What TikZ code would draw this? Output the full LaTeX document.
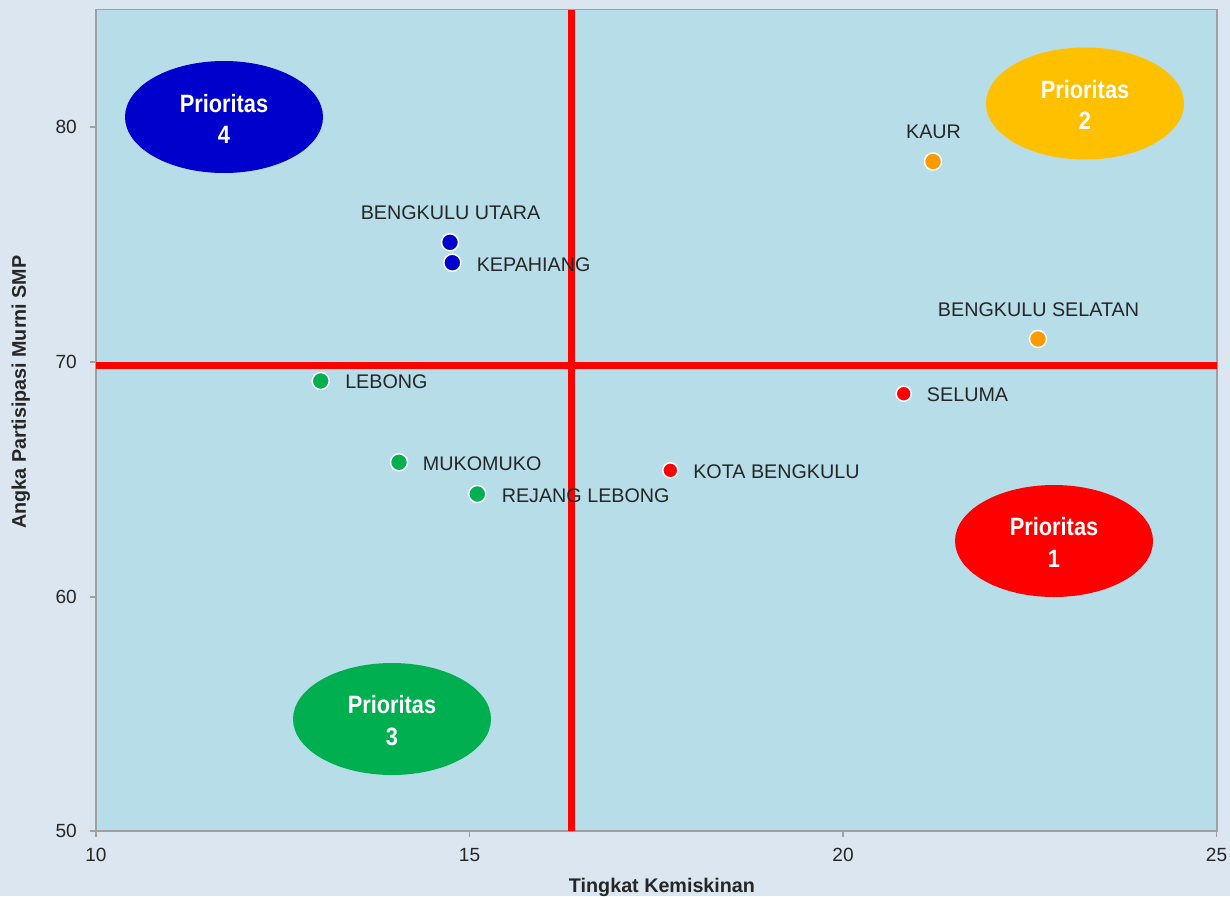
\documentclass[tikz,border=0pt]{standalone}
\usepackage{fontspec}
\setmainfont{Liberation Sans}
\newfontfamily\narrowfont{Liberation Sans}[FakeStretch=0.87]
\usetikzlibrary{shapes.geometric}
\definecolor{outerbg}{HTML}{DCE6F1}
\definecolor{plotbg}{HTML}{B7DDE8}
\definecolor{axisgray}{HTML}{A0A0A0}
\definecolor{txt}{HTML}{262626}
\definecolor{pblue}{HTML}{0000CC}
\definecolor{porange}{HTML}{FFC000}
\definecolor{dorange}{HTML}{FF9900}
\definecolor{pred}{HTML}{FF0000}
\definecolor{pgreen}{HTML}{00B050}
\begin{document}
\begin{tikzpicture}[x=0.75pt,y=-0.75pt,
  lbl/.style={inner sep=0pt,text=txt,font=\fontsize{14.8pt}{17pt}\selectfont},
  ticklbl/.style={inner sep=0pt,text=txt,font=\fontsize{14.3pt}{17pt}\selectfont},
  axtitle/.style={inner sep=0pt,text=txt,font=\bfseries\fontsize{14.8pt}{17pt}\selectfont},
  dot/.style={circle,draw=white,line width=1.1pt,minimum size=12.8pt,inner sep=0pt},
  smalldot/.style={dot,minimum size=11.3pt},
  prio/.style={ellipse,minimum width=148.5pt,minimum height=84pt,inner sep=0pt},
  priotxt/.style={inner sep=0pt,text=white,font=\narrowfont\bfseries\fontsize{18.8pt}{22pt}\selectfont},
  quad/.style={draw=pred,line width=5.2pt},
  tick/.style={draw=axisgray,line width=1.2pt}
]
\fill[outerbg] (0,0) rectangle (1230,896);
\useasboundingbox (0,0) rectangle (1230,896);
% plot area
\fill[plotbg] (96,9.5) rectangle (1217,831);
\draw[axisgray,line width=1.3pt] (96,9.5) rectangle (1217,831);
% ticks
\foreach \yy in {127,362,597,831} \draw[tick] (89.5,\yy) -- (96,\yy);
\foreach \xx in {96,469.5,843,1216.5} \draw[tick] (\xx,831) -- (\xx,837);
% tick labels
\node[ticklbl,anchor=east] (y80) at (77,127) {80};
\node[ticklbl,anchor=east] (y70) at (77,362) {70};
\node[ticklbl,anchor=east] (y60) at (77,597) {60};
\node[ticklbl,anchor=east] (y50) at (77,831) {50};
\node[ticklbl,anchor=base] (x10) at (96,861) {10};
\node[ticklbl,anchor=base] (x15) at (469.5,861) {15};
\node[ticklbl,anchor=base] (x20) at (843,861) {20};
\node[ticklbl,anchor=base] (x25) at (1216.5,861) {25};
% axis titles
\node[axtitle,anchor=base] (xtitle) at (662,892) {Tingkat Kemiskinan};
\node[axtitle,rotate=90,anchor=base] (ytitle) at (26,392) {Angka Partisipasi Murni SMP};
% quadrant lines
\draw[quad] (571.5,9.5) coordinate (vtop) -- (571.5,831) coordinate (vbot);
\draw[quad] (96,365.5) coordinate (hleft) -- (1217,365.5) coordinate (hright);
% priority ellipses
\node[prio,fill=pblue] (p4) at (224,117) {};
\node[priotxt,anchor=base] (p4a) at (224,112) {Prioritas};
\node[priotxt,anchor=base] (p4b) at (224,143) {4};
\node[prio,fill=porange] (p2) at (1085,103.5) {};
\node[priotxt,anchor=base] (p2a) at (1085,98) {Prioritas};
\node[priotxt,anchor=base] (p2b) at (1085,129.5) {2};
\node[prio,fill=pred] (p1) at (1054,541) {};
\node[priotxt,anchor=base] (p1a) at (1054,535) {Prioritas};
\node[priotxt,anchor=base] (p1b) at (1054,567) {1};
\node[prio,fill=pgreen] (p3) at (392,719) {};
\node[priotxt,anchor=base] (p3a) at (392,713) {Prioritas};
\node[priotxt,anchor=base] (p3b) at (392,745) {3};
% data points
\node[dot,fill=dorange] (kaur) at (933,161.5) {};
\node[lbl,anchor=base] (kaurL) at (933.5,138.5) {KAUR};
\node[dot,fill=pblue] (butara) at (450,242.3) {};
\node[lbl,anchor=base] (butaraL) at (450.5,219) {BENGKULU UTARA};
\node[dot,fill=pblue] (kepa) at (452.3,262.7) {};
\node[lbl,anchor=base west] (kepaL) at (476.5,271) {KEPAHIANG};
\node[dot,fill=dorange] (bsel) at (1038,339) {};
\node[lbl,anchor=base] (bselL) at (1038.5,316) {BENGKULU SELATAN};
\node[dot,fill=pgreen] (lebong) at (320.7,381) {};
\node[lbl,anchor=base west] (lebongL) at (345,388.5) {LEBONG};
\node[smalldot,fill=pred] (seluma) at (903.7,393.7) {};
\node[lbl,anchor=base west] (selumaL) at (926.7,401) {SELUMA};
\node[dot,fill=pgreen] (muko) at (399,462.3) {};
\node[lbl,anchor=base west] (mukoL) at (422.7,470) {MUKOMUKO};
\node[smalldot,fill=pred] (kota) at (670.3,470.3) {};
\node[lbl,anchor=base west] (kotaL) at (693,478) {KOTA BENGKULU};
\node[dot,fill=pgreen] (rejang) at (477.3,494) {};
\node[lbl,anchor=base west] (rejangL) at (501.5,502) {REJANG LEBONG};
\end{tikzpicture}
\end{document}
